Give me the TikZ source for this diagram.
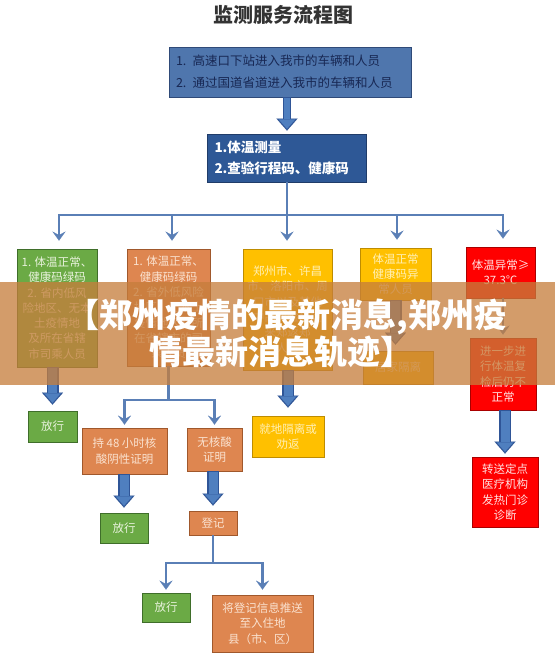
\documentclass[tikz,border=0pt]{standalone}
\usepackage{fontspec}
\newfontfamily\cjk{Noto Sans CJK SC}
\usetikzlibrary{arrows.meta,calc}
\definecolor{ctop}{RGB}{79,118,173}
\definecolor{ctopD}{RGB}{47,74,120}
\definecolor{ctopT}{RGB}{24,40,84}
\definecolor{cmid}{RGB}{46,88,150}
\definecolor{cmidD}{RGB}{32,60,105}
\definecolor{cln}{RGB}{90,127,182}
\definecolor{cb}{RGB}{79,127,191}
\definecolor{cbD}{RGB}{47,85,151}
\definecolor{cg}{RGB}{107,170,69}
\definecolor{cgD}{RGB}{63,110,42}
\definecolor{cgT}{RGB}{232,242,220}
\definecolor{co}{RGB}{222,134,80}
\definecolor{coD}{RGB}{160,88,44}
\definecolor{coT}{RGB}{250,226,208}
\definecolor{cy}{RGB}{255,192,0}
\definecolor{cyD}{RGB}{190,140,0}
\definecolor{cyT}{RGB}{255,240,180}
\definecolor{cr}{RGB}{255,0,0}
\definecolor{crD}{RGB}{170,0,0}
\definecolor{crT}{RGB}{255,225,225}
\definecolor{cban}{RGB}{198,126,60}
\tikzset{
  bx/.style={draw, line width=0.8pt, inner sep=0pt, align=center,
    font=\cjk\fontsize{11.5}{15.3}\selectfont},
  gbox/.style={bx, fill=cg, draw=cgD, text=cgT},
  obox/.style={bx, fill=co, draw=coD, text=coT},
  ybox/.style={bx, fill=cy, draw=cyD, text=cyT},
  rbox/.style={bx, fill=cr, draw=crD, text=crT},
  thinline/.style={draw=cln, line width=2.6pt},
  thinar/.style={thinline, -{Stealth[length=9pt,width=13pt,inset=3.5pt,line width=0.1pt]}},
  blkout/.style={draw=cbD, line width=12pt, -{Triangle[length=12pt,width=21pt,line width=0.1pt]}},
  blkin/.style={draw=cb, line width=9pt, -{Triangle[length=9.5pt,width=16.5pt,line width=0.1pt]}},
  blkoutn/.style={draw=cbD, line width=8.5pt, -{Triangle[length=12pt,width=21pt,line width=0.1pt]}},
  blkinn/.style={draw=cb, line width=6pt, -{Triangle[length=9.5pt,width=16.5pt,line width=0.1pt]}},
  bantext/.style={font=\cjk\bfseries\fontsize{33}{33}\selectfont, text=white, inner sep=0pt},
}
\newcommand\blk[4]{\draw[blkout,shorten >=#3] (#1) -- (#2);
  \draw[blkin,shorten >=#4,shorten <=0.6pt] (#1) -- (#2);}
\begin{document}
\begin{tikzpicture}[x=1pt,y=-1pt]
\useasboundingbox (0,0) rectangle (555,668);
\fill[white] (0,0) rectangle (555,668);

\node[font=\cjk\bfseries\fontsize{20}{20}\selectfont, text=black!80] (title) at (283,15) {监测服务流程图};

\node[bx, fill=ctop, draw=ctopD, text=ctopT, minimum width=242pt, minimum height=50pt,
  text width=228pt, align=left, font=\cjk\fontsize{12.5}{22}\selectfont] (tb) at (290,72)
  {1. 高速口下站进入我市的车辆和人员\\2. 通过国道省道进入我市的车辆和人员};
\node[bx, fill=cmid, draw=cmidD, text=white, minimum width=159pt, minimum height=48pt,
  text width=145pt, align=left, font=\cjk\bfseries\fontsize{13.5}{21}\selectfont] (mid) at (287,158)
  {1.体温测量\\2.查验行程码、健康码};

% column boxes
\node[gbox, minimum width=80pt, minimum height=118pt] (g1) at (57,308)
  {1. 体温正常、\\健康码绿码\\2. 省内低风\\险地区、无本\\土疫情地\\及所在省辖\\市司乘人员};
\node[obox, minimum width=83pt, minimum height=117pt] (o2) at (168.5,307.5)
  {1. 体温正常、\\健康码绿码\\2. 省外低风险\\地区、无本土\\疫情地区及所\\在省辖市的司\\乘人员};
\node[ybox, minimum width=89pt, minimum height=121pt] (y3) at (287.5,309.5)
  {郑州市、许昌\\市、洛阳市、周\\口市以及其他\\中高风险地区\\来郑返郑\\人员};
\node[ybox, minimum width=71pt, minimum height=52pt] (y4) at (395.5,274)
  {体温正常\\健康码异\\常人员};
\node[ybox, minimum width=70pt, minimum height=33pt] (y4b) at (398,367.5)
  {居家隔离};
\node[rbox, minimum width=69pt, minimum height=51pt] (r5) at (500.5,272.5)
  {体温异常≥\\37.3℃};
\node[rbox, minimum width=66pt, minimum height=72pt] (r6) at (503,374)
  {进一步进\\行体温复\\检后仍不\\正常};
\node[rbox, minimum width=66pt, minimum height=70pt] (r7) at (505,492)
  {转送定点\\医疗机构\\发热门诊\\诊断};

% lower boxes
\node[gbox, minimum width=49pt, minimum height=31pt] (pass1) at (52.5,426.5) {放行};
\node[obox, minimum width=85pt, minimum height=46pt] (n48) at (124.5,451) {持 48 小时核\\酸阴性证明};
\node[obox, minimum width=55pt, minimum height=43pt] (nonuc) at (214.5,449.5) {无核酸\\证明};
\node[ybox, minimum width=72pt, minimum height=41pt] (iso) at (288,436.5) {就地隔离或\\劝返};
\node[gbox, minimum width=48pt, minimum height=30pt] (pass2) at (124,528) {放行};
\node[obox, minimum width=48pt, minimum height=24pt] (reg) at (213,523) {登记};
\node[gbox, minimum width=48pt, minimum height=29pt] (pass3) at (166,607.5) {放行};
\node[obox, minimum width=101pt, minimum height=57pt] (push) at (262.5,623.5)
  {将登记信息推送\\至入住地\\县（市、区）};

% distribution bus
\coordinate (J1) at (59,215);
\coordinate (J2) at (172,215);
\coordinate (J3) at (287,215);
\coordinate (J4) at (397,215);
\coordinate (J5) at (503,215);
\draw[thinline] (mid.south) -- (J3);
\draw[thinline, line cap=rect] (J1) -- (J5);
\draw[thinar, shorten >=8pt] (J1) -- (J1 |- g1.north);
\draw[thinar, shorten >=8pt] (J2) -- (J2 |- o2.north);
\draw[thinar, shorten >=8pt] (J3) -- (J3 |- y3.north);
\draw[thinar, shorten >=8pt] (J4) -- (J4 |- y4.north);
\draw[thinar, shorten >=8pt] (J5) -- (J5 |- r5.north);
\draw[thinar, shorten >=3pt] (r6.north |- r5.south) -- (r6.north);

% branch under o2
\coordinate (B2) at (169,400);
\draw[thinline] (o2.south) -- (o2.south |- B2);
\draw[thinline, line cap=rect] (n48.north |- B2) -- (nonuc.north |- B2);
\draw[thinar, shorten >=3pt] (n48.north |- B2) -- (n48.north);
\draw[thinar, shorten >=3pt] (nonuc.north |- B2) -- (nonuc.north);

% branch under reg
\coordinate (B3) at (213,563);
\draw[thinline] (reg.south) -- (reg.south |- B3);
\draw[thinline, line cap=rect] (pass3.north |- B3) -- (push.north |- B3);
\draw[thinar, shorten >=3pt] (pass3.north |- B3) -- (pass3.north);
\draw[thinar, shorten >=5pt] (push.north |- B3) -- (push.north);

% block arrows
\draw[blkoutn, shorten >=3pt] (tb.south -| mid.north) -- (mid.north);
\draw[blkinn, shorten >=4.8pt, shorten <=0.6pt] (tb.south -| mid.north) -- (mid.north);
\blk{pass1.north |- g1.south}{pass1.north}{6pt}{7.8pt}
\blk{iso.north |- y3.south}{iso.north}{8pt}{9.8pt}
\blk{y4.south}{y4.south |- y4b.north}{6pt}{7.8pt}
\blk{pass2.north |- n48.south}{pass2.north}{5pt}{6.8pt}
\blk{reg.north |- nonuc.south}{reg.north}{5pt}{6.8pt}
\blk{r7.north |- r6.south}{r7.north}{3pt}{4.8pt}

% overlay banner
\fill[cban, opacity=0.76] (0,282) rectangle (555,385);
\node[bantext] (bt1) at (287,317) {【郑州疫情的最新消息,郑州疫};
\node[bantext] (bt2) at (281,352) {情最新消息轨迹】};
\end{tikzpicture}
\end{document}
